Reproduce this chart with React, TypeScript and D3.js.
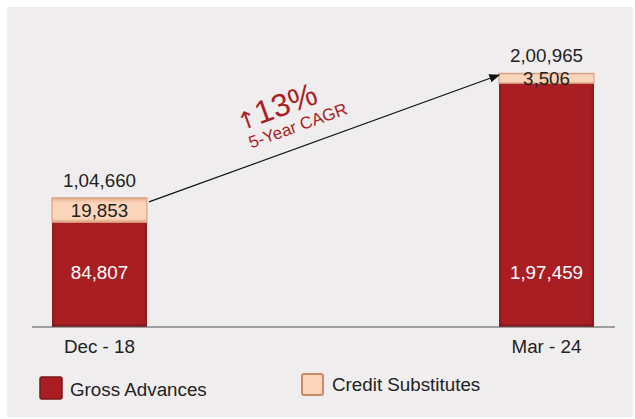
import React from "react";
import * as d3 from "d3";

const categories = ["Dec - 18", "Mar - 24"];
const grossAdvances = [84807, 197459];
const creditSubstitutes = [19853, 3506];
const totals = [104660, 200965];
const totalLabels = ["1,04,660", "2,00,965"];
const grossLabels = ["84,807", "1,97,459"];
const creditLabels = ["19,853", "3,506"];
const seriesNames = ["Gross Advances", "Credit Substitutes"];
const cagrText = "13%";
const cagrSub = "5-Year CAGR";

const W = 635, H = 419;
const RED = "#A81E23";
const ORANGE = "#FBD5BA";

export default function App() {
  const x = d3.scaleBand().domain(categories).range([52, 594]).paddingInner(0.7875).paddingOuter(0);
  const baseY = 327;
  const y = d3.scaleLinear().domain([0, 200965]).range([baseY, 79]);
  const bw = x.bandwidth();
  const font = "'Liberation Sans', Arial, sans-serif";
  const fs = 18.8;

  const x0 = (x(categories[0]) as number) + bw;
  const y0 = y(totals[0]) + 4;
  const x1 = x(categories[1]) as number;
  const y1 = y(totals[1]) - 4;
  const ang = (Math.atan2(y1 - y0, x1 - x0) * 180) / Math.PI;

  return (
    <svg width={W} height={H} style={{ display: "block", position: "absolute", left: 0, top: 0 }}>
      <defs>
        <linearGradient id="redg" x1="0" x2="1" y1="0" y2="0">
          <stop offset="0" stopColor="#8E181C" />
          <stop offset="0.04" stopColor={RED} />
          <stop offset="0.96" stopColor={RED} />
          <stop offset="1" stopColor="#8E181C" />
        </linearGradient>
        <linearGradient id="orgg" x1="0" x2="0" y1="0" y2="1">
          <stop offset="0" stopColor="#E3A888" />
          <stop offset="0.2" stopColor={ORANGE} />
          <stop offset="0.85" stopColor={ORANGE} />
          <stop offset="1" stopColor="#E0A07E" />
        </linearGradient>
        <marker id="arr" viewBox="0 0 10 10" refX="9" refY="5" markerWidth="9" markerHeight="9" orient="auto">
          <path d="M0,1 L10,5 L0,9 Z" fill="#111" />
        </marker>
      </defs>
      <rect x={0} y={0} width={W} height={H} fill="#fff" />
      <rect x={7} y={7} width={626} height={410} fill="#EFEDEE" />
      {categories.map((c, i) => {
        const bx = x(c) as number;
        const redTop = y(grossAdvances[i]);
        const orgH = Math.max(redTop - y(grossAdvances[i] + creditSubstitutes[i]), 10);
        const orgTop = redTop - orgH;
        return (
          <g key={c}>
            <rect x={bx} y={redTop} width={bw} height={baseY - redTop} fill="url(#redg)" />
            <rect x={bx} y={baseY - 3} width={bw} height={3} fill="#7E1519" opacity={0.6} />
            <rect x={bx} y={orgTop} width={bw} height={orgH} fill="url(#orgg)" stroke="#D49A7C" strokeWidth={1} />
            <text x={bx + bw / 2} y={orgTop + orgH / 2 + 7} textAnchor="middle" fontFamily={font} fontSize={fs} fill="#222">
              {creditLabels[i]}
            </text>
            <text x={bx + bw / 2} y={orgTop - 11} textAnchor="middle" fontFamily={font} fontSize={fs} fill="#222">
              {totalLabels[i]}
            </text>
            <text x={bx + bw / 2} y={279} textAnchor="middle" fontFamily={font} fontSize={fs} fill="#fff">
              {grossLabels[i]}
            </text>
            <text x={bx + bw / 2} y={353} textAnchor="middle" fontFamily={font} fontSize={fs} fill="#222">
              {c}
            </text>
          </g>
        );
      })}
      <line x1={32} x2={615} y1={baseY} y2={baseY} stroke="#555" strokeWidth={1.2} />
      <line x1={x0 + 2} y1={y0} x2={x1} y2={y1} stroke="#111" strokeWidth={1.2} markerEnd="url(#arr)" />
      <g transform={`translate(280,117) rotate(${ang})`}>
        <text x={0} y={0} textAnchor="middle" fontFamily={font} fontSize={32} fill={RED}>
          <tspan fontFamily="'DejaVu Sans', sans-serif" fontSize={24}>↑</tspan>{cagrText}
        </text>
        <text x={14} y={20} textAnchor="middle" fontFamily={font} fontSize={17} fill={RED}>
          {cagrSub}
        </text>
      </g>
      <rect x={40} y={377} width={22} height={22} fill={RED} stroke="#7E1519" strokeWidth={1.5} rx={2} />
      <text x={70} y={396} fontFamily={font} fontSize={fs} fill="#222">{seriesNames[0]}</text>
      <rect x={302} y={374} width={21} height={21} fill={ORANGE} stroke="#C98A6A" strokeWidth={2} rx={2} />
      <text x={332} y={391} fontFamily={font} fontSize={fs} fill="#222">{seriesNames[1]}</text>
    </svg>
  );
}
